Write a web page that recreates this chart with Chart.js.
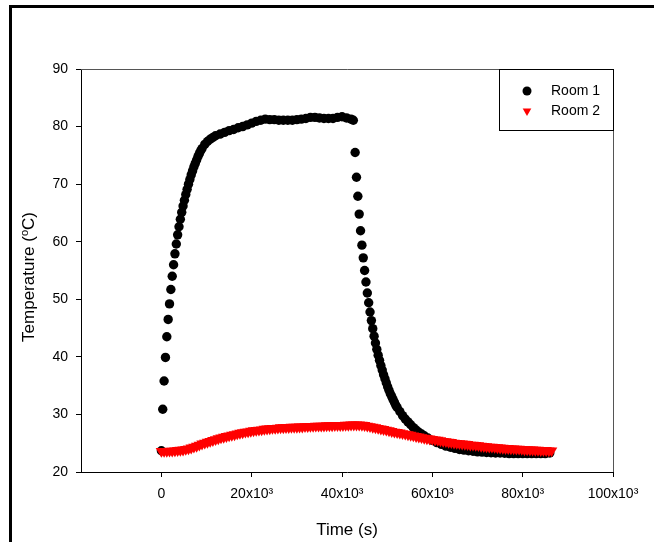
<!DOCTYPE html>
<html>
<head>
<meta charset="utf-8">
<script src="https://cdn.jsdelivr.net/npm/chart.js@4.4.1/dist/chart.umd.min.js"></script>
<style>
  html, body { margin: 0; padding: 0; background: #fff; }
  #wrap { width: 654px; height: 542px; }
</style>
</head>
<body>
<div id="wrap"><canvas id="c" width="654" height="542"></canvas></div>
<script>
// ---------------- DATA ----------------
const seriesNames = ['Room 1', 'Room 2'];

const xTickValues = [0, 20000, 40000, 60000, 80000, 100000];
const xTickLabels = ['0', '20x10³', '40x10³', '60x10³', '80x10³', '100x10³'];
const yTickValues = [20, 30, 40, 50, 60, 70, 80, 90];
const yTickLabels = ['20', '30', '40', '50', '60', '70', '80', '90'];

// Room 1 : time (s)
const room1Time = [
  0, 300, 600, 900, 1200, 1500, 1800, 2100, 2400, 2700,
  3000, 3300, 3600, 3900, 4200, 4500, 4800, 5100, 5400, 5700,
  6000, 6300, 6600, 6900, 7200, 7500, 7800, 8100, 8400, 8700,
  9000, 9600, 10200, 10800, 11400, 12000, 13000, 14000, 15000, 16000,
  17000, 18000, 19000, 20000, 21000, 22000, 23000, 24000, 25000, 26000,
  27000, 28000, 29000, 30000, 31000, 32000, 33000, 34000, 35000, 36000,
  37000, 38000, 39000, 40000, 41000, 42000, 42500, 42900, 43200, 43500,
  43800, 44100, 44400, 44700, 45000, 45300, 45600, 45900, 46200, 46500,
  46800, 47100, 47400, 47700, 48000, 48300, 48600, 48900, 49200, 49500,
  49800, 50100, 50400, 50700, 51000, 51300, 51600, 51900, 52200, 52800,
  53400, 54000, 54600, 55200, 55800, 56400, 57000, 57600, 58200, 59000,
  60000, 61000, 62000, 63000, 64000, 65000, 66000, 67000, 68000, 69000,
  70000, 71000, 72000, 73000, 74000, 75000, 76000, 77000, 78000, 79000,
  80000, 81000, 82000, 83000, 84000, 85000, 86000
];
// Room 1 : temperature (°C)
const room1Temp = [
  23.7, 30.9, 35.8, 39.9, 43.5, 46.5, 49.2, 51.7, 54.0, 56.0,
  57.9, 59.6, 61.2, 62.6, 63.9, 65.1, 66.2, 67.2, 68.2, 69.1,
  70.0, 70.8, 71.6, 72.3, 73.0, 73.6, 74.2, 74.8, 75.3, 75.8,
  76.2, 76.9, 77.4, 77.8, 78.1, 78.4, 78.7, 79.0, 79.3, 79.5,
  79.8, 80.0, 80.3, 80.6, 80.9, 81.1, 81.3, 81.2, 81.2, 81.1,
  81.1, 81.1, 81.1, 81.2, 81.3, 81.4, 81.6, 81.6, 81.5, 81.4,
  81.4, 81.4, 81.6, 81.7, 81.5, 81.3, 81.1, 75.5, 71.2, 67.9,
  64.8, 61.9, 59.4, 57.2, 55.0, 53.0, 51.1, 49.4, 47.8, 46.3,
  44.9, 43.6, 42.4, 41.3, 40.3, 39.4, 38.5, 37.7, 36.9, 36.2,
  35.5, 34.8, 34.2, 33.6, 33.1, 32.6, 32.1, 31.6, 31.2, 30.5,
  29.8, 29.2, 28.7, 28.2, 27.7, 27.3, 26.9, 26.6, 26.3, 25.9,
  25.5, 25.1, 24.8, 24.5, 24.3, 24.1, 23.9, 23.8, 23.7, 23.6,
  23.5, 23.45, 23.4, 23.35, 23.3, 23.3, 23.25, 23.2, 23.2, 23.2,
  23.2, 23.2, 23.2, 23.2, 23.2, 23.2, 23.3
];

// Room 2 : time (s)
const room2Time = [
  0, 600, 1200, 1800, 2400, 3000, 3600, 4200, 4800, 5400,
  6000, 6600, 7200, 7800, 8400, 9000, 9600, 10200, 10800, 11400,
  12000, 12600, 13200, 13800, 14400, 15000, 15600, 16200, 16800, 17400,
  18000, 18600, 19200, 19800, 20400, 21000, 21600, 22200, 22800, 23400,
  24000, 24600, 25200, 25800, 26400, 27000, 27600, 28200, 28800, 29400,
  30000, 30600, 31200, 31800, 32400, 33000, 33600, 34200, 34800, 35400,
  36000, 36600, 37200, 37800, 38400, 39000, 39600, 40200, 40800, 41400,
  42000, 42600, 43200, 43800, 44400, 45000, 45600, 46200, 46800, 47400,
  48000, 48600, 49200, 49800, 50400, 51000, 51600, 52200, 52800, 53400,
  54000, 54600, 55200, 55800, 56400, 57000, 57600, 58200, 58800, 59400,
  60000, 60600, 61200, 61800, 62400, 63000, 63600, 64200, 64800, 65400,
  66000, 66600, 67200, 67800, 68400, 69000, 69600, 70200, 70800, 71400,
  72000, 72600, 73200, 73800, 74400, 75000, 75600, 76200, 76800, 77400,
  78000, 78600, 79200, 79800, 80400, 81000, 81600, 82200, 82800, 83400,
  84000, 84600, 85200, 85800, 86400
];
// Room 2 : temperature (°C)
const room2Temp = [
  23.6, 23.6, 23.6, 23.65, 23.65, 23.7, 23.75, 23.8, 23.85, 23.95,
  24.05, 24.2, 24.35, 24.5, 24.7, 24.9, 25.05, 25.2, 25.35, 25.5,
  25.65, 25.8, 25.95, 26.05, 26.2, 26.3, 26.4, 26.5, 26.65, 26.75,
  26.85, 26.95, 27.0, 27.1, 27.2, 27.25, 27.3, 27.35, 27.45, 27.5,
  27.55, 27.6, 27.6, 27.65, 27.7, 27.7, 27.75, 27.75, 27.8, 27.8,
  27.8, 27.85, 27.85, 27.9, 27.9, 27.95, 27.95, 28.0, 28.0, 28.0,
  28.0, 28.05, 28.05, 28.05, 28.1, 28.1, 28.1, 28.1, 28.15, 28.15,
  28.2, 28.2, 28.2, 28.2, 28.15, 28.1, 28.0, 27.9, 27.8, 27.7,
  27.6, 27.5, 27.4, 27.3, 27.2, 27.05, 26.95, 26.9, 26.8, 26.7,
  26.6, 26.5, 26.4, 26.3, 26.2, 26.1, 26.0, 25.9, 25.8, 25.75,
  25.7, 25.6, 25.55, 25.45, 25.35, 25.3, 25.2, 25.15, 25.05, 25.0,
  24.95, 24.9, 24.85, 24.8, 24.7, 24.7, 24.65, 24.6, 24.5, 24.45,
  24.4, 24.35, 24.35, 24.3, 24.25, 24.2, 24.15, 24.1, 24.1, 24.05,
  24.05, 24.0, 24.0, 23.95, 23.9, 23.9, 23.85, 23.85, 23.8, 23.8,
  23.75, 23.75, 23.75, 23.7, 23.7
];

// ---------------- CHART ----------------
const FONT = "'Liberation Sans', Arial, sans-serif";
const toXY = (xs, ys) => xs.map((x, i) => ({ x: x, y: ys[i] }));

const decoPlugin = {
  id: 'deco',
  beforeDraw(chart) {
    const ctx = chart.ctx;
    ctx.save();
    ctx.fillStyle = '#fff';
    ctx.fillRect(0, 0, chart.width, chart.height);
    ctx.restore();
  },
  afterDraw(chart) {
    const ctx = chart.ctx;
    const a = chart.chartArea;
    ctx.save();
    // outer figure frame
    ctx.fillStyle = '#000';
    ctx.fillRect(9, 5, 3, chart.height - 5);
    ctx.fillRect(9, 5, chart.width - 9, 3);

    // top & right frame of the plot
    ctx.strokeStyle = '#555';
    ctx.lineWidth = 1;
    ctx.beginPath();
    ctx.moveTo(a.left, Math.round(a.top) + 0.5);
    ctx.lineTo(Math.round(a.right) + 0.5, Math.round(a.top) + 0.5);
    ctx.lineTo(Math.round(a.right) + 0.5, a.bottom);
    ctx.stroke();

    // legend box
    const lx = Math.round(a.right) - 114, ly = Math.round(a.top);
    ctx.strokeStyle = '#000';
    ctx.strokeRect(lx + 0.5, ly + 0.5, 114, 61);
    ctx.font = '14px ' + FONT;
    ctx.textBaseline = 'middle';
    ctx.textAlign = 'left';
    const ds = chart.data.datasets;
    // Room 1 marker
    ctx.fillStyle = ds[0].backgroundColor;
    ctx.beginPath();
    ctx.arc(lx + 28, ly + 22, 4.5, 0, Math.PI * 2);
    ctx.fill();
    // Room 2 marker (down triangle)
    ctx.fillStyle = ds[1].backgroundColor;
    const tx = lx + 28, ty = ly + 42, r = 5;
    ctx.beginPath();
    ctx.moveTo(tx - r * 0.866, ty - r * 0.5);
    ctx.lineTo(tx + r * 0.866, ty - r * 0.5);
    ctx.lineTo(tx, ty + r);
    ctx.closePath();
    ctx.fill();
    ctx.fillStyle = '#000';
    ctx.fillText(ds[0].label, lx + 52, ly + 22);
    ctx.fillText(ds[1].label, lx + 52, ly + 42);

    // x-axis title
    ctx.font = '17px ' + FONT;
    ctx.textAlign = 'center';
    ctx.textBaseline = 'alphabetic';
    ctx.fillText('Time (s)', (a.left + a.right) / 2, 535);

    // y-axis title with superscript o
    ctx.translate(34, 277);
    ctx.rotate(-Math.PI / 2);
    const p1 = 'Temperature (', p2 = 'o', p3 = 'C)';
    ctx.font = '17px ' + FONT;
    const w1 = ctx.measureText(p1).width, w3 = ctx.measureText(p3).width;
    ctx.font = '11px ' + FONT;
    const w2 = ctx.measureText(p2).width;
    const total = w1 + w2 + w3;
    let x0 = -total / 2;
    ctx.textAlign = 'left';
    ctx.font = '17px ' + FONT;
    ctx.fillText(p1, x0, 0);
    ctx.font = '11px ' + FONT;
    ctx.fillText(p2, x0 + w1, -6);
    ctx.font = '17px ' + FONT;
    ctx.fillText(p3, x0 + w1 + w2, 0);
    ctx.restore();
  }
};

new Chart(document.getElementById('c'), {
  type: 'scatter',
  data: {
    datasets: [
      {
        label: seriesNames[0],
        data: toXY(room1Time, room1Temp),
        backgroundColor: '#000',
        borderColor: '#000',
        pointStyle: 'circle',
        pointRadius: 4.7,
        pointBorderWidth: 0,
        order: 1
      },
      {
        label: seriesNames[1],
        data: toXY(room2Time, room2Temp),
        backgroundColor: '#ff0000',
        borderColor: '#ff0000',
        pointStyle: 'triangle',
        rotation: 180,
        pointRotation: 180,
        pointRadius: 6.6,
        pointBorderWidth: 0,
        order: 0
      }
    ]
  },
  options: {
    responsive: false,
    animation: false,
    events: [],
    layout: { padding: { left: 0, right: 41, top: 69, bottom: 0 } },
    plugins: { legend: { display: false }, tooltip: { enabled: false } },
    scales: {
      x: {
        type: 'linear',
        min: -17800,
        max: 100000,
        afterBuildTicks: (s) => { s.ticks = xTickValues.map(v => ({ value: v })); },
        afterFit: (s) => { s.height = 70; },
        ticks: {
          autoSkip: false,
          maxRotation: 0,
          padding: 9,
          color: '#000',
          font: { family: FONT, size: 14 },
          callback: (v) => { const i = xTickValues.indexOf(v); return i >= 0 ? xTickLabels[i] : ''; }
        },
        grid: { display: true, drawOnChartArea: false, drawTicks: true, tickLength: 5, color: '#000', lineWidth: 1 },
        border: { display: true, color: '#000', width: 1 }
      },
      y: {
        type: 'linear',
        min: 20,
        max: 90,
        afterBuildTicks: (s) => { s.ticks = yTickValues.map(v => ({ value: v })); },
        afterFit: (s) => { s.width = 81; },
        ticks: {
          autoSkip: false,
          padding: 8,
          color: '#000',
          font: { family: FONT, size: 14 },
          callback: (v) => { const i = yTickValues.indexOf(v); return i >= 0 ? yTickLabels[i] : ''; }
        },
        grid: { display: true, drawOnChartArea: false, drawTicks: true, tickLength: 5, color: '#000', lineWidth: 1 },
        border: { display: true, color: '#000', width: 1 }
      }
    }
  },
  plugins: [decoPlugin]
});
</script>
</body>
</html>
